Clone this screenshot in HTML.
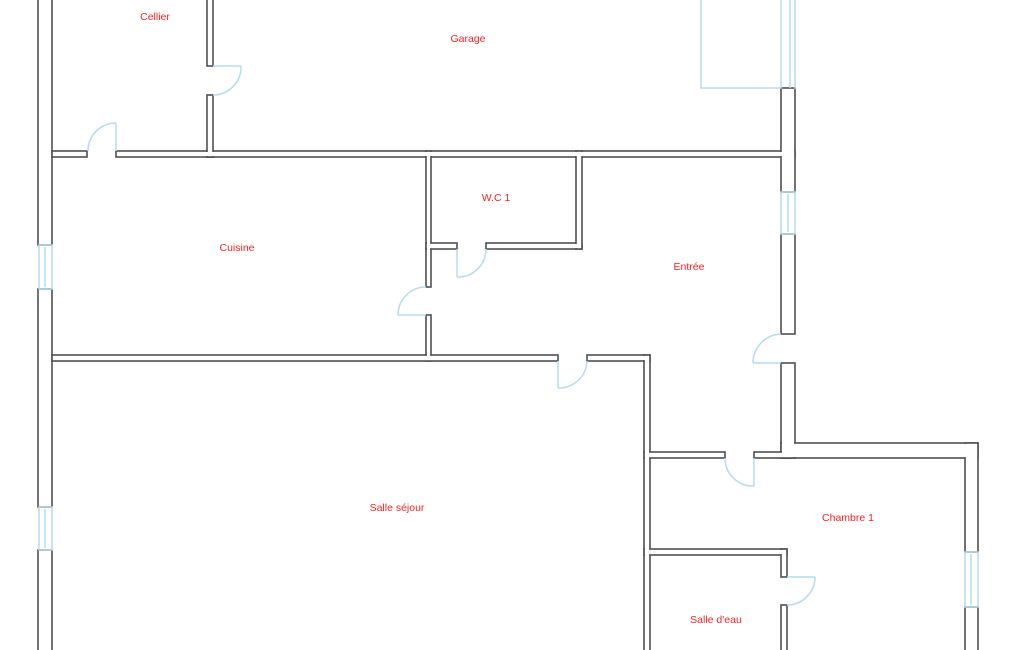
<!DOCTYPE html>
<html><head><meta charset="utf-8"><style>
html,body{margin:0;padding:0;background:#fff;}
svg{display:block}
text{font-family:"Liberation Sans",sans-serif;font-size:10.5px;fill:#ff2020;text-anchor:middle}
</style></head><body>
<svg width="1025" height="650" viewBox="0 0 1025 650" xmlns="http://www.w3.org/2000/svg">
<g id="w" stroke="#505050" stroke-width="1.6" fill="#fff">
<!-- outer left -->
<rect x="38" y="-5" width="14" height="250"/>
<rect x="38" y="289" width="14" height="218"/>
<rect x="38" y="550" width="14" height="110"/>
<!-- cellier/cuisine/garage horizontal -->
<rect x="52" y="151" width="35" height="6"/>
<rect x="116" y="151" width="97" height="6"/>
<rect x="207" y="151" width="588" height="6"/>
<!-- cellier/garage -->
<rect x="207" y="-5" width="6" height="71"/>
<rect x="207" y="95" width="6" height="62"/>
<!-- garage right -->
<rect x="781" y="88" width="14" height="104"/>
<rect x="781" y="234" width="14" height="100"/>
<rect x="781" y="363" width="14" height="95"/>
<rect x="781" y="443" width="197" height="15"/>
<!-- cuisine right -->
<rect x="426" y="151" width="5" height="136"/>
<rect x="426" y="315" width="5" height="46"/>
<!-- wc -->
<rect x="426" y="243" width="31" height="6"/>
<rect x="486" y="243" width="96" height="6"/>
<rect x="576" y="151" width="6" height="98"/>
<!-- cuisine/salle -->
<rect x="52" y="355" width="506" height="6"/>
<rect x="587" y="355" width="63" height="6"/>
<rect x="644" y="355" width="6" height="305"/>
<!-- entree bottom -->
<rect x="644" y="452" width="81" height="6"/>
<rect x="754" y="452" width="41" height="6"/>
<!-- chambre right -->
<rect x="965" y="443" width="13" height="109"/>
<rect x="965" y="607" width="13" height="60"/>
<!-- chambre / salle d'eau -->
<rect x="644" y="549" width="143" height="6"/>
<rect x="781" y="549" width="6" height="28"/>
<rect x="781" y="605" width="6" height="60"/>
</g>
<g fill="#fff" stroke="none">
<rect x="39" y="-5" width="12" height="249"/>
<rect x="39" y="290" width="12" height="216"/>
<rect x="39" y="551" width="12" height="108"/>
<rect x="53" y="152" width="33" height="4"/>
<rect x="117" y="152" width="95" height="4"/>
<rect x="208" y="152" width="586" height="4"/>
<rect x="208" y="-5" width="4" height="70"/>
<rect x="208" y="96" width="4" height="60"/>
<rect x="782" y="89" width="12" height="102"/>
<rect x="782" y="235" width="12" height="98"/>
<rect x="782" y="364" width="12" height="93"/>
<rect x="782" y="444" width="195" height="13"/>
<rect x="427" y="152" width="3" height="134"/>
<rect x="427" y="316" width="3" height="44"/>
<rect x="427" y="244" width="29" height="4"/>
<rect x="487" y="244" width="94" height="4"/>
<rect x="577" y="152" width="4" height="96"/>
<rect x="53" y="356" width="504" height="4"/>
<rect x="588" y="356" width="61" height="4"/>
<rect x="645" y="356" width="4" height="303"/>
<rect x="645" y="453" width="79" height="4"/>
<rect x="755" y="453" width="39" height="4"/>
<rect x="966" y="444" width="11" height="107"/>
<rect x="966" y="608" width="11" height="58"/>
<rect x="645" y="550" width="141" height="4"/>
<rect x="782" y="550" width="4" height="26"/>
<rect x="782" y="606" width="4" height="58"/>
</g>
<g fill="none" stroke="#b5dcec" stroke-width="1.5">
<!-- garage glass -->
<rect x="701" y="-2" width="80" height="90"/>
<line x1="790" y1="0" x2="790" y2="88"/>
<rect x="795" y="-2" width="0.1" height="90"/>
<!-- windows -->
<rect x="39" y="245" width="13" height="44"/><line x1="45" y1="247" x2="45" y2="287"/>
<rect x="39" y="507" width="13" height="43"/><line x1="45" y1="509" x2="45" y2="548"/>
<rect x="781" y="192" width="14" height="42"/><line x1="788" y1="194" x2="788" y2="232"/>
<rect x="965" y="552" width="13" height="55"/><line x1="971" y1="554" x2="971" y2="605"/>
<!-- doors -->
<line x1="116" y1="123" x2="116" y2="151"/><path d="M116 123 A28 28 0 0 0 88 151"/>
<line x1="213" y1="66" x2="241" y2="66"/><path d="M241 66 A28 28 0 0 1 213 95"/>
<line x1="426" y1="315" x2="398" y2="315"/><path d="M398 315 A28 28 0 0 1 426 287"/>
<line x1="457" y1="249" x2="457" y2="277"/><path d="M457 277 A28 28 0 0 0 486 249"/>
<line x1="558" y1="361" x2="558" y2="388"/><path d="M558 388 A28 28 0 0 0 587 361"/>
<line x1="781" y1="363" x2="753" y2="363"/><path d="M753 363 A29 29 0 0 1 781 334"/>
<line x1="754" y1="458" x2="754" y2="486"/><path d="M754 486 A28 28 0 0 1 725 458"/>
<line x1="787" y1="577" x2="815" y2="577"/><path d="M815 577 A28 28 0 0 1 787 605"/>
</g>
<text x="155" y="20">Cellier</text>
<text x="468" y="42">Garage</text>
<text x="496" y="201">W.C 1</text>
<text x="237" y="251">Cuisine</text>
<text x="689" y="270">Entrée</text>
<text x="397" y="511">Salle séjour</text>
<text x="848" y="521">Chambre 1</text>
<text x="716" y="623">Salle d'eau</text>
</svg>
</body></html>
